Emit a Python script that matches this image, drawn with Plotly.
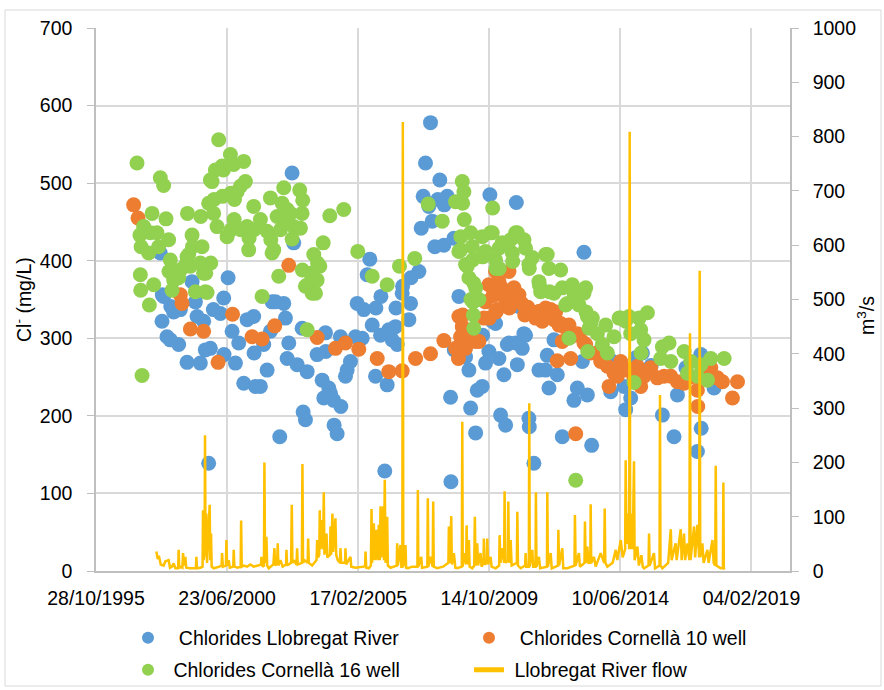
import pandas as pd
import plotly.graph_objects as go

# ---------------- data (dates as Excel serial day numbers) ----------------
river_dates = [35834, 35856, 35860, 35877, 35921, 35964, 35970, 36007, 36072, 36094, 36181, 36246, 36289, 36311,
               36353, 36396, 36418, 36461, 36483, 36522, 36613, 36656, 36660, 36713, 36765, 36808, 36851, 36916,
               36960, 37045, 37050, 37067, 37132, 37175, 37219, 37262, 37284, 37327, 37383, 37435, 37457, 37479,
               37500, 37543, 37564, 37608, 37673, 37686, 37716, 37738, 37868, 37933, 37954, 37976, 37980, 38019,
               38041, 38083, 38088, 38127, 38170, 38175, 38235, 38257, 38300, 38365, 38387, 38452, 38473, 38517,
               38551, 38582, 38625, 38630, 38690, 38695, 38745, 38776, 38797, 38841, 38884, 38890, 38906, 38971,
               38976, 39057, 39079, 39084, 39187, 39218, 39243, 39273, 39316, 39338, 39360, 39394, 39433, 39459,
               39511, 39516, 39555, 39598, 39603, 39641, 39646, 39706, 39793, 39836, 39858, 39923, 39944, 40009,
               40014, 40052, 40095, 40108, 40139, 40182, 40225, 40247, 40290, 40312, 40334, 40355, 40442, 40451,
               40464, 40485, 40528, 40549, 40571, 40614, 40619, 40679, 40744, 40831, 40852, 40874, 40939, 40982,
               41047, 41198, 41242, 41307, 41328, 41372, 41428, 41545, 41675, 41700, 41847, 41869, 41934, 42000,
               42086, 42200, 42345, 42496, 42540, 42650, 42799, 42843, 42848, 42950, 43015]
river_cl = [410, 322, 356, 354, 302, 298, 341, 334, 292, 337, 269, 373, 347, 328,
            268, 322, 285, 139, 287, 337, 332, 352, 279, 378, 309, 268, 294, 242,
            324, 328, 281, 238, 238, 292, 259, 309, 347, 347, 173, 345, 326, 274,
            294, 513, 423, 266, 313, 205, 195, 257, 279, 246, 223, 307, 283, 236,
            229, 220, 188, 177, 302, 212, 251, 259, 270, 302, 345, 300, 337, 382,
            402, 317, 251, 339, 304, 354, 129, 240, 311, 298, 315, 339, 292, 358,
            367, 324, 345, 378, 386, 442, 483, 526, 470, 578, 451, 418, 479, 504,
            420, 472, 483, 224, 115, 429, 285, 354, 276, 259, 210, 178, 233, 238,
            304, 268, 283, 485, 322, 319, 274, 201, 253, 188, 292, 294, 294, 475,
            266, 341, 287, 306, 304, 197, 186, 139, 259, 259, 278, 236, 298, 253,
            173, 220, 236, 270, 411, 227, 162, 285, 231, 270, 238, 208, 223, 275,
            281, 265, 201, 173, 227, 262, 154, 279, 184, 265, 236]

c10_dates = [35488, 35545, 36094, 36115, 36224, 36396, 36583, 36771, 37024, 37154, 37318, 37500, 37868, 38105,
             38235, 38408, 38647, 38797, 38971, 39144, 39338, 39511, 39663, 39700, 39706, 39728, 39750, 39755,
             39793, 39800, 39923, 39966, 40031, 40052, 40095, 40100, 40150, 40182, 40187, 40204, 40225, 40260,
             40300, 40355, 40360, 40377, 40399, 40420, 40485, 40520, 40560, 40600, 40636, 40658, 40700, 40723,
             40750, 40787, 40809, 40831, 40896, 40939, 40961, 40982, 41004,
             41026, 41047, 41069, 41134, 41156, 41161, 41221, 41242, 41264, 41328, 41350, 41415, 41502, 41545,
             41632, 41653, 41718, 41761, 41805, 41891, 41977, 42021, 42064, 42107, 42194, 42280, 42367, 42454,
             42540, 42627, 42713, 42799, 42804, 42908, 42973, 43059, 43124, 43254, 43319]
c10_cl = [472, 455, 356, 345, 312, 309, 269, 331, 302, 299, 316, 394, 301, 287,
          294, 286, 274, 257, 258, 274, 280, 297, 287, 274, 328, 302, 315, 330,
          287, 300, 296, 296, 326, 347, 369, 326, 355, 386, 334, 337, 373, 365,
          352, 386, 339, 344, 360, 365, 356, 345, 330, 340, 332, 334, 326, 332,
          335, 322, 334, 339, 337, 324, 334, 271, 317,
          319, 296, 315, 317, 274, 302, 177, 306, 304, 294, 292, 281, 281, 270,
          264, 238, 255, 251, 270, 259, 248, 264, 238, 251, 262, 249, 251, 251,
          244, 242, 250, 233, 212, 250, 262, 249, 244, 223, 244]

c16_dates = [35532, 35570, 35575, 35580, 35585, 35597, 35618, 35683, 35692, 35705, 35727, 35748, 35791, 35812,
             35834, 35877, 35908, 35942, 35947, 35964, 35986, 36007, 36072, 36094, 36159, 36181, 36186, 36202,
             36224, 36246, 36251, 36289, 36353, 36358, 36375, 36396, 36418, 36423, 36440, 36461, 36483, 36488,
             36505, 36526, 36531, 36548, 36570, 36591, 36635, 36640, 36652, 36700, 36743, 36748, 36753, 36786,
             36791, 36796, 36830, 36873, 36878, 36916, 36937, 36959, 36980, 36985, 37045, 37050, 37132, 37154,
             37219, 37262, 37267, 37284, 37305, 37349, 37370, 37392, 37414, 37435, 37479, 37484, 37521, 37543,
             37564, 37642, 37651, 37673, 37681, 37676, 37716, 37738, 37743, 37781, 37803, 37824, 37846, 37868,
             37873, 37902, 37946, 38032, 38213, 38395, 38582, 38776, 38936, 39134, 39308, 39490, 39663, 39706,
             39728, 39733, 39750, 39771, 39755, 39776, 39793, 39815, 39836, 39858, 39863, 39879, 39884, 39889,
             39894, 39899, 39900, 39923, 39966, 40009, 40014, 40052, 40117, 40139, 40144, 40182, 40187, 40225,
             40230, 40268, 40377, 40399, 40404, 40442, 40464, 40550, 40571, 40614, 40619, 40658, 40744, 40749,
             40766, 40831, 40852, 40874, 40879, 40939, 41026, 41047, 41091, 41112, 41134, 41177, 41199, 41221,
             41264, 41328, 41350, 41355, 41372, 41377, 41393, 41415, 41437, 41502, 41567, 41610, 41632, 41718,
             41783, 41805, 41869, 41912, 41934, 41978, 42043, 42064, 42069, 42107, 42151, 42324, 42345, 42432,
             42454, 42627, 42670, 42713, 42799, 42843, 42930, 42973, 43146]
c16_cl = [526, 433, 382, 362, 418, 252, 444, 410, 343, 436, 461, 369, 436, 418,
          507, 497, 454, 427, 386, 401, 362, 375, 378, 388, 394, 405, 461, 408,
          393, 433, 418, 360, 397, 457, 418, 384, 360, 384, 359, 474, 504, 397,
          502, 461, 479, 517, 444, 556, 522, 483, 517, 431, 537, 487, 440, 524,
          453, 479, 489, 496, 440, 528, 502, 444, 414, 429, 470, 440, 453, 354,
          438, 481, 427, 410, 414, 457, 380, 440, 474, 494, 466, 448, 461, 428,
          444, 491, 442, 461, 478, 388, 367, 311, 369, 384, 358, 408, 358, 375,
          397, 393, 423, 458, 466, 412, 380, 369, 393, 403, 473, 451, 476, 412,
          414, 431, 502, 489, 474, 453, 395, 393, 378, 436, 350, 418, 401, 347,
          330, 313, 371, 365, 350, 431, 405, 412, 436, 436, 468, 401, 390, 416,
          390, 423, 427, 410, 399, 436, 436, 427, 416, 395, 390, 404, 373, 369,
          360, 408, 408, 390, 360, 358, 388, 365, 343, 345, 300, 369, 358, 117,
          343, 358, 365, 334, 328, 283, 313, 319, 326, 306, 292, 317, 281, 302,
          326, 326, 322, 328, 306, 243, 326, 311, 281, 298, 333, 274, 289, 294,
          270, 283, 255, 270, 251, 266, 246, 274, 274]

flow_dates = [35783, 35800, 35815, 35840, 35877, 35900, 35942, 35960, 35986, 36007, 36030, 36065, 36072, 36080,
              36094, 36120, 36129, 36140, 36159, 36170, 36224, 36295, 36302, 36310, 36353, 36382, 36388, 36395,
              36408, 36414, 36420, 36431, 36440, 36453, 36474, 36482, 36492, 36500, 36526, 36600, 36628, 36635,
              36645, 36685, 36691, 36700, 36721, 36735, 36780, 36786, 36795, 36838, 36876, 36882, 36890, 36916,
              36960, 37000, 37045, 37100, 37140, 37145, 37160, 37178, 37184, 37192, 37210, 37220, 37240, 37300,
              37314, 37325, 37350, 37357, 37365, 37392, 37420, 37465, 37470, 37478, 37530, 37539, 37547, 37564,
              37600, 37608, 37616, 37670, 37677, 37685, 37703, 37745, 37751, 37760, 37803, 37860, 37868, 37880,
              37895, 37902, 37910, 37933, 37945, 37954, 37962, 37989, 38000, 38035, 38041, 38050, 38066, 38075,
              38105, 38115, 38135, 38165, 38170, 38180, 38230, 38235, 38245, 38300, 38310, 38365, 38473, 38490,
              38495, 38505, 38538, 38565, 38573, 38580, 38603, 38615, 38637, 38650, 38667, 38680, 38690, 38700,
              38725, 38735, 38745, 38755, 38776, 38785, 38819, 38900, 38906, 38915, 38949, 38960, 38973, 38979,
              38985, 39014, 39022, 39044, 39100, 39168, 39174, 39180, 39218, 39228, 39297, 39303, 39310, 39338,
              39366, 39373, 39380, 39425, 39500, 39570, 39576, 39590, 39607, 39615, 39641, 39660, 39685, 39744,
              39750, 39756, 39771, 39800, 39806, 39815, 39836, 39845, 39879, 39905, 39913, 39922, 39944, 39955,
              39987, 40000, 40025, 40030, 40040, 40070, 40074, 40085, 40117, 40130, 40182, 40228, 40234, 40245,
              40269, 40292, 40299, 40306, 40340, 40347, 40355, 40377, 40390, 40458, 40464, 40472, 40507, 40565,
              40571, 40580, 40613, 40619, 40625, 40658, 40670, 40700, 40705, 40712, 40744, 40760, 40848, 40853,
              40860, 40896, 40910, 40990, 40996, 41005, 41047, 41060, 41112, 41205, 41211, 41220, 41263, 41275,
              41335, 41341, 41350, 41372, 41385, 41410, 41415, 41422, 41458, 41480, 41545, 41590, 41597, 41605,
              41632, 41700, 41740, 41760, 41805, 41830, 41862, 41869, 41880, 41899, 41915, 41921, 41927, 41947,
              41960, 41977, 41985, 42021, 42040, 42073, 42090, 42107, 42165, 42172, 42180, 42236, 42250, 42308,
              42314, 42320, 42345, 42420, 42454, 42465, 42517, 42530, 42583, 42595, 42626, 42640, 42670, 42695,
              42703, 42710, 42756, 42770, 42799, 42822, 42829, 42836, 42864, 42880, 42929, 42945, 42994, 43010,
              43030, 43037, 43045, 43067, 43103, 43130, 43136, 43142, 43153]
flow_q = [36, 22, 28, 12, 10, 18, 20, 6, 8, 14, 5, 5, 39, 5,
          8, 6, 33, 10, 26, 6, 5, 5, 26, 5, 6, 8, 112, 20,
          30, 250, 40, 106, 15, 60, 122, 20, 69, 8, 5, 8, 10, 33,
          8, 10, 57, 10, 20, 6, 8, 39, 8, 6, 8, 93, 8, 10,
          8, 12, 8, 10, 12, 26, 8, 10, 200, 15, 63, 10, 5, 12,
          42, 10, 15, 51, 10, 20, 8, 12, 39, 10, 15, 122, 15, 20,
          12, 42, 12, 15, 197, 15, 20, 15, 60, 15, 10, 20, 57, 25,
          30, 112, 40, 94, 40, 145, 30, 69, 25, 30, 82, 30, 106, 35,
          97, 30, 20, 15, 42, 15, 15, 42, 12, 26, 8, 6, 8, 10,
          36, 6, 5, 10, 114, 15, 88, 20, 76, 20, 85, 20, 119, 25,
          119, 20, 168, 15, 100, 10, 6, 10, 51, 10, 48, 8, 8, 827,
          8, 48, 6, 5, 8, 8, 149, 8, 26, 6, 8, 134, 8, 26,
          8, 128, 8, 5, 8, 15, 82, 15, 101, 12, 33, 6, 5, 8,
          275, 8, 33, 12, 84, 12, 57, 8, 5, 10, 100, 10, 51, 10,
          33, 8, 15, 60, 12, 15, 60, 12, 26, 8, 5, 10, 66, 15,
          42, 15, 147, 15, 20, 128, 15, 57, 10, 15, 109, 10, 5, 10,
          33, 8, 8, 309, 8, 39, 8, 8, 145, 8, 26, 5, 8, 145,
          8, 33, 5, 10, 76, 10, 42, 5, 5, 10, 103, 10, 33, 8,
          15, 91, 15, 45, 15, 15, 123, 15, 26, 8, 33, 15, 115, 15,
          8, 15, 39, 20, 57, 25, 40, 204, 50, 106, 40, 809, 40, 106,
          40, 202, 20, 45, 10, 29, 8, 5, 10, 69, 10, 33, 5, 10,
          324, 10, 5, 15, 77, 20, 51, 20, 77, 20, 69, 20, 51, 20,
          438, 20, 82, 25, 85, 25, 553, 25, 51, 15, 39, 15, 57, 15,
          10, 194, 10, 8, 5, 5, 163, 5, 3]

x_tick_serials = [35000, 36700, 38400, 40100, 41800, 43500]
x_tick_labels = ["28/10/1995", "23/06/2000", "17/02/2005", "14/10/2009", "10/06/2014", "04/02/2019"]
x_range_serials = [35000, 44000]


def to_date(serials):
    return pd.to_datetime(pd.Series(serials), unit="D", origin="1899-12-30")


FONT = "Liberation Sans, Arial, sans-serif"
FS = 19.5
GRID = "#D9D9D9"
AXIS = "#BFBFBF"

# plot area in pixels (for placing annotations/border)
L, R, T, B = 96, 790, 28, 571
PW, PH = R - L, B - T


def px(xp):
    return (xp - L) / PW


def py(yp):
    return (B - yp) / PH


fig = go.Figure()
fig.add_trace(go.Scatter(x=to_date(river_dates), y=river_cl, mode="markers",
                         name="  Chlorides Llobregat River", legend="legend",
                         marker=dict(color="#5B9BD5", size=15, line=dict(width=0))))
fig.add_trace(go.Scatter(x=to_date(c10_dates), y=c10_cl, mode="markers",
                         name="  Chlorides Cornellà 10 well", legend="legend",
                         marker=dict(color="#ED7D31", size=15, line=dict(width=0))))
fig.add_trace(go.Scatter(x=to_date(c16_dates), y=c16_cl, mode="markers",
                         name=" Chlorides Cornellà 16 well", legend="legend2",
                         marker=dict(color="#92D050", size=15, line=dict(width=0))))
fig.add_trace(go.Scatter(x=to_date(flow_dates), y=flow_q, mode="lines", yaxis="y2",
                         name=" Llobregat River flow", legend="legend2",
                         line=dict(color="#FFC000", width=2.5)))

legend_common = dict(orientation="h", x=px(128), xanchor="left", yanchor="middle",
                     entrywidth=296, font=dict(size=FS), bgcolor="rgba(0,0,0,0)",
                     tracegroupgap=0, itemsizing="constant")

fig.update_layout(
    width=884, height=690,
    margin=dict(l=L, r=884 - R, t=T, b=690 - B, autoexpand=False),
    paper_bgcolor="white", plot_bgcolor="white",
    font=dict(family=FONT, size=FS, color="#000000"),
    showlegend=True,
    legend=dict(legend_common, y=py(638)),
    legend2=dict(legend_common, y=py(670)),
    xaxis=dict(type="date", range=list(to_date(x_range_serials)),
               tickvals=list(to_date(x_tick_serials)), ticktext=x_tick_labels,
               showgrid=True, gridcolor=GRID, gridwidth=1.5,
               showline=True, linecolor=AXIS, linewidth=1.5, automargin=False,
               ticks="outside", ticklen=6, tickcolor="rgba(0,0,0,0)", zeroline=False,
               ticklabelstandoff=3, tickfont=dict(size=FS)),
    yaxis=dict(range=[0, 700], dtick=100, tick0=0, automargin=False,
               showgrid=True, gridcolor=GRID, gridwidth=1.5,
               showline=True, linecolor=AXIS, linewidth=1.5,
               ticks="outside", ticklen=7, tickcolor=AXIS, zeroline=False,
               ticklabelstandoff=11, tickfont=dict(size=FS)),
    yaxis2=dict(range=[0, 1000], dtick=100, tick0=0, overlaying="y", side="right",
                automargin=False,
                showgrid=False, showline=True, linecolor=AXIS, linewidth=1.5,
                ticks="outside", ticklen=7, tickcolor=AXIS, zeroline=False,
                ticklabelstandoff=10, tickfont=dict(size=FS)),
    annotations=[
        dict(text="Cl<sup>-</sup> (mg/L)", xref="paper", yref="paper",
             x=px(23), y=py(300), textangle=-90, showarrow=False,
             font=dict(size=FS), xanchor="center", yanchor="middle"),
        dict(text="m<sup>3</sup>/s", xref="paper", yref="paper",
             x=px(866), y=py(316), textangle=-90, showarrow=False,
             font=dict(size=FS), xanchor="center", yanchor="middle"),
    ],
    shapes=[dict(type="rect", xref="paper", yref="paper",
                 x0=px(5), x1=px(881), y0=py(686), y1=py(10),
                 line=dict(color=GRID, width=1), fillcolor="rgba(0,0,0,0)", layer="below")],
)

fig.write_html("out.html", config={"displayModeBar": False},
               post_script="document.body.style.margin='0';")
